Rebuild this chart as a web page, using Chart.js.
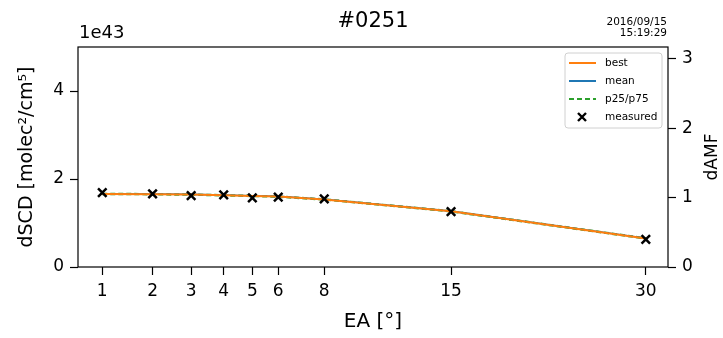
<!DOCTYPE html>
<html>
<head>
<meta charset="utf-8">
<script src="https://cdn.jsdelivr.net/npm/chart.js@4"></script>
<style>
  html, body { margin: 0; padding: 0; background: #fff; }
  #wrap { width: 723px; height: 338px; }
</style>
</head>
<body>
<div id="wrap"><canvas id="amf"></canvas></div>
<script>
// elevation angles (x), values in units of 1e43
const eaTicks = [1, 2, 3, 4, 5, 6, 8, 15, 30];
const measured = [1.69, 1.66, 1.62, 1.64, 1.57, 1.59, 1.55, 1.26, 0.63];
const best = [1.66, 1.655, 1.645, 1.63, 1.615, 1.60, 1.535, 1.265, 0.65];
const mean = [1.665, 1.66, 1.65, 1.635, 1.62, 1.605, 1.54, 1.27, 0.655];
const p25 = [1.65, 1.645, 1.635, 1.62, 1.605, 1.59, 1.525, 1.255, 0.64];
const p75 = [1.67, 1.665, 1.655, 1.64, 1.625, 1.61, 1.545, 1.275, 0.66];
const leftTicks = [0, 2, 4];
const rightTicks = [0, 1, 2, 3];

const FONT = "'DejaVu Sans', sans-serif";
Chart.defaults.font.family = FONT;
Chart.defaults.color = '#000';

// x axis is square-root spaced
const pts = (arr) => arr.map((v, i) => ({ x: Math.sqrt(eaTicks[i]), y: v }));

const tickGrid = { drawOnChartArea: false, drawTicks: true, tickLength: 8, tickColor: '#000', tickWidth: 1.2 };

// -- frame, texts and legend drawn around the plot
const decor = {
  id: 'decor',
  afterDatasetsDraw(chart) {
    const { ctx, chartArea: a } = chart;
    ctx.save();
    ctx.strokeStyle = '#000';
    ctx.lineWidth = 1.2;
    ctx.strokeRect(a.left, a.top, a.right - a.left, a.bottom - a.top);

    ctx.fillStyle = '#000';
    ctx.textBaseline = 'middle';
    ctx.textAlign = 'center';
    ctx.font = `21px ${FONT}`;
    ctx.fillText('#0251', (a.left + a.right) / 2, 22);

    ctx.textAlign = 'left';
    ctx.font = `18px ${FONT}`;
    ctx.fillText('1e43', a.left + 1, 33);

    ctx.textAlign = 'right';
    ctx.font = `10.5px ${FONT}`;
    ctx.fillText('2016/09/15', a.right - 1, 22);
    ctx.fillText('15:19:29', a.right - 1, 33);

    // right axis label reads bottom-up
    ctx.save();
    ctx.translate(713, (a.top + a.bottom) / 2);
    ctx.rotate(-Math.PI / 2);
    ctx.textAlign = 'center';
    ctx.font = `17px ${FONT}`;
    ctx.fillText('dAMF', 0, 0);
    ctx.restore();

    // legend
    const bx = 565, by = 53, bw = 97, bh = 75;
    ctx.fillStyle = 'rgba(255,255,255,0.85)';
    ctx.strokeStyle = '#d0d0d0';
    ctx.lineWidth = 1;
    ctx.beginPath();
    ctx.roundRect(bx, by, bw, bh, 3);
    ctx.fill();
    ctx.stroke();

    const rows = [
      { label: 'best', ds: 1 },
      { label: 'mean', ds: 2 },
      { label: 'p25/p75', ds: 3 },
      { label: 'measured', ds: 0 },
    ];
    ctx.font = `10.5px ${FONT}`;
    ctx.textAlign = 'left';
    rows.forEach((r, i) => {
      const y = 63 + i * 18;
      const d = chart.data.datasets[r.ds];
      if (r.ds === 0) {
        ctx.strokeStyle = '#000';
        ctx.lineWidth = 2.4;
        const cx = 582, s = 4;
        ctx.beginPath();
        ctx.moveTo(cx - s, y - s); ctx.lineTo(cx + s, y + s);
        ctx.moveTo(cx + s, y - s); ctx.lineTo(cx - s, y + s);
        ctx.stroke();
      } else {
        ctx.strokeStyle = d.borderColor;
        ctx.lineWidth = 2;
        ctx.setLineDash(d.borderDash || []);
        ctx.beginPath();
        ctx.moveTo(569, y); ctx.lineTo(596, y);
        ctx.stroke();
        ctx.setLineDash([]);
      }
      ctx.fillStyle = '#000';
      ctx.fillText(r.label, 605, y);
    });
    ctx.restore();
  },
};

new Chart(document.getElementById('amf'), {
  type: 'line',
  data: {
    datasets: [
      {
        label: 'measured',
        data: pts(measured),
        showLine: false,
        pointStyle: 'crossRot',
        pointRadius: 6,
        borderColor: '#000',
        backgroundColor: '#000',
        pointBorderWidth: 2.5,
        yAxisID: 'y',
      },
      { label: 'best', data: pts(best), borderColor: '#ff7f0e', borderWidth: 2, pointRadius: 0, yAxisID: 'y' },
      { label: 'mean', data: pts(mean), borderColor: '#1f77b4', borderWidth: 1.6, pointRadius: 0, yAxisID: 'y' },
      { label: 'p25/p75', data: pts(p25), borderColor: '#2ca02c', borderWidth: 1.6, borderDash: [5, 3], pointRadius: 0, yAxisID: 'y' },
      { label: 'p75', data: pts(p75), borderColor: '#2ca02c', borderWidth: 1.6, borderDash: [5, 3], pointRadius: 0, yAxisID: 'y' },
    ],
  },
  options: {
    responsive: true,
    maintainAspectRatio: false,
    animation: false,
    layout: { padding: { top: 47, left: 0, right: 0, bottom: 0 } },
    plugins: { legend: { display: false }, tooltip: { enabled: false } },
    scales: {
      x: {
        type: 'linear',
        min: 0.8,
        max: 5.66,
        afterBuildTicks: (s) => { s.ticks = eaTicks.map((v) => ({ value: Math.sqrt(v) })); },
        afterFit: (s) => { s.height = 71; },
        border: { display: false },
        grid: tickGrid,
        ticks: {
          autoSkip: false,
          maxRotation: 0,
          padding: 6,
          font: { size: 17 },
          callback: (v, i) => String(eaTicks[i]),
        },
        title: { display: true, text: 'EA [°]', font: { size: 20 }, padding: { bottom: 4 } },
      },
      y: {
        position: 'left',
        min: 0,
        max: 5,
        afterBuildTicks: (s) => { s.ticks = leftTicks.map((v) => ({ value: v })); },
        afterFit: (s) => { s.width = 78; },
        border: { display: false },
        grid: tickGrid,
        ticks: { padding: 6, font: { size: 17 } },
        title: { display: true, text: 'dSCD [molec²/cm⁵]', font: { size: 19 }, padding: { top: 16 } },
      },
      y1: {
        position: 'right',
        min: 0,
        max: 3.17,
        afterBuildTicks: (s) => { s.ticks = rightTicks.map((v) => ({ value: v })); },
        afterFit: (s) => { s.width = 55; },
        border: { display: false },
        grid: tickGrid,
        ticks: { padding: 6, font: { size: 17 } },
        title: { display: false },
      },
    },
  },
  plugins: [decor],
});
</script>
</body>
</html>
